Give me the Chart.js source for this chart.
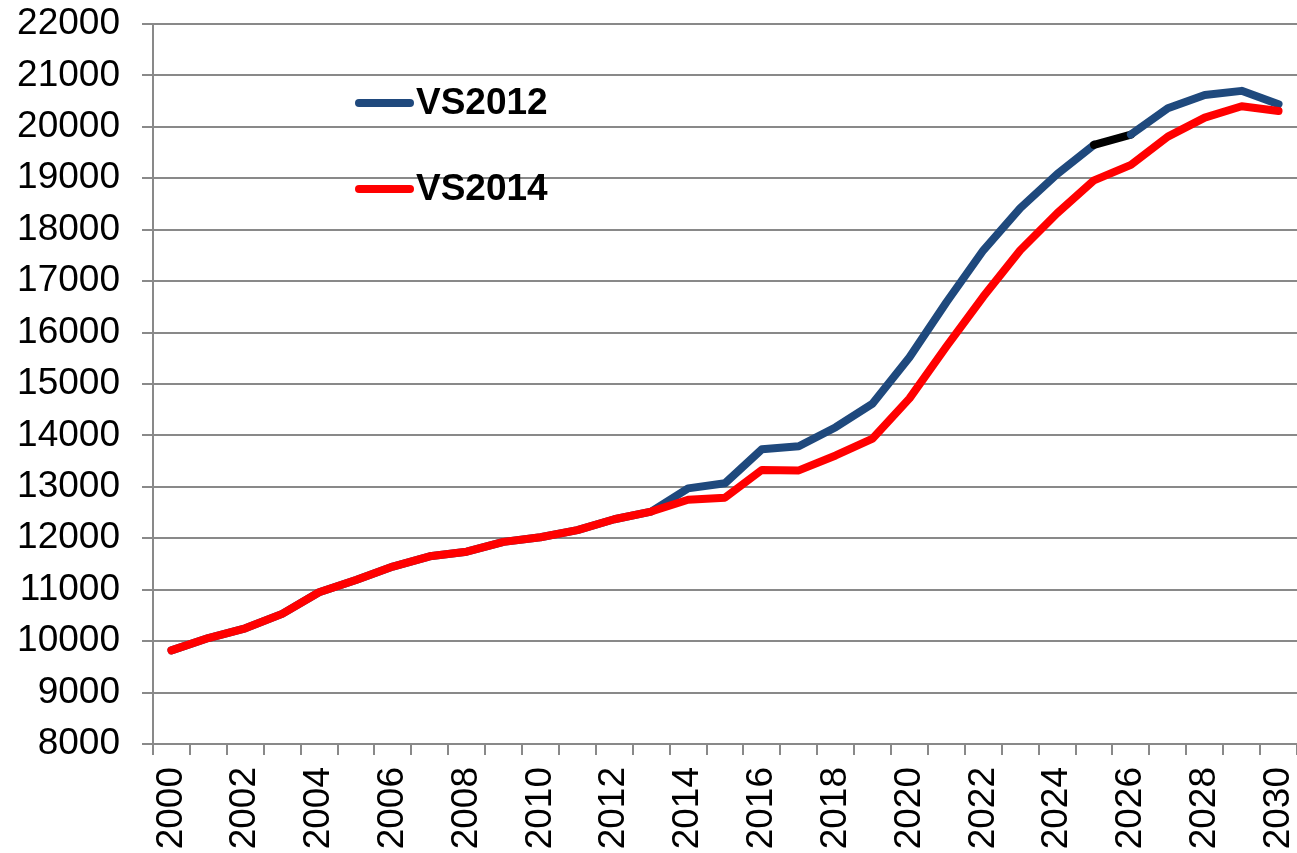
<!DOCTYPE html>
<html>
<head>
<meta charset="utf-8">
<script src="https://cdn.jsdelivr.net/npm/chart.js@4/dist/chart.umd.min.js"></script>
<style>
  html, body { margin: 0; padding: 0; background: #fff; }
  #wrap { width: 1297px; height: 853px; position: relative; }
</style>
</head>
<body>
<div id="wrap"><canvas id="chart"></canvas></div>
<script>
// Years on the x axis
const years = ['2000', '2001', '2002', '2003', '2004', '2005', '2006', '2007', '2008', '2009',
    '2010', '2011', '2012', '2013', '2014', '2015', '2016', '2017', '2018', '2019',
    '2020', '2021', '2022', '2023', '2024', '2025', '2026', '2027', '2028', '2029', '2030'];

// Series values
const vs2012 = [9820, 10060, 10250, 10530, 10950, 11190, 11450, 11650, 11740, 11930,
    12020, 12160, 12370, 12520, 12970, 13070, 13730, 13790, 14160, 14620,
    15520, 16590, 17600, 18420, 19080, 19650, 19850, 20360, 20620, 20700, 20440];
const vs2014 = [9820, 10060, 10250, 10530, 10950, 11190, 11450, 11650, 11740, 11930,
    12020, 12160, 12370, 12520, 12750, 12790, 13330, 13320, 13610, 13940,
    14720, 15730, 16700, 17600, 18320, 18960, 19260, 19810, 20180, 20400, 20310];

const seriesNames = ['VS2012', 'VS2014'];
const seriesColors = ['#1F497D', '#FF0000'];

const FONT = '"Liberation Sans", Arial, sans-serif';
const GRID = '#898989';

// Legend drawn inside the plot, like the original
const insideLegend = {
    id: 'insideLegend',
    afterDraw(chart) {
        const ctx = chart.ctx;
        const rows = [103, 189];
        ctx.save();
        seriesNames.forEach((name, i) => {
            const y = rows[i];
            ctx.strokeStyle = seriesColors[i];
            ctx.lineWidth = 8;
            ctx.lineCap = 'round';
            ctx.beginPath();
            ctx.moveTo(359, y);
            ctx.lineTo(410, y);
            ctx.stroke();
            ctx.fillStyle = '#000';
            ctx.font = 'bold 37px ' + FONT;
            ctx.textBaseline = 'middle';
            ctx.textAlign = 'left';
            ctx.fillText(name, 416, y + 1);
        });
        ctx.restore();
    }
};

const chart = new Chart(document.getElementById('chart'), {
    type: 'line',
    data: {
        labels: years,
        datasets: [{
            label: seriesNames[0],
            data: vs2012,
            borderColor: seriesColors[0],
            borderWidth: 8,
            pointRadius: 0,
            borderCapStyle: 'round',
            borderJoinStyle: 'round',
            order: 1,
            segment: {
                // the one dark segment between 2025 and 2026
                borderColor: c => c.p0DataIndex === 25 ? '#000000' : undefined
            }
        }, {
            label: seriesNames[1],
            data: vs2014,
            borderColor: seriesColors[1],
            borderWidth: 8,
            pointRadius: 0,
            borderCapStyle: 'round',
            borderJoinStyle: 'round',
            order: 0
        }]
    },
    options: {
        responsive: true,
        maintainAspectRatio: false,
        animation: false,
        layout: { padding: { top: 24, left: 17, right: 0, bottom: 0 } },
        plugins: {
            legend: { display: false },
            tooltip: { enabled: false }
        },
        scales: {
            x: {
                offset: true,
                afterFit: s => { s.paddingLeft = 0; s.paddingRight = 0; s.height = 109; },
                grid: {
                    offset: true,
                    drawOnChartArea: false,
                    drawTicks: true,
                    tickLength: 11,
                    color: GRID,
                    lineWidth: 2
                },
                border: { color: GRID, width: 2 },
                ticks: {
                    autoSkip: false,
                    maxRotation: 90,
                    minRotation: 90,
                    padding: 12,
                    color: '#000',
                    font: { family: FONT, size: 37 },
                    callback: (v, i) => i % 2 === 0 ? years[i] : ''
                }
            },
            y: {
                min: 8000,
                max: 22000,
                afterFit: s => { s.paddingTop = 0; s.paddingBottom = 0; s.width = 136; },
                grid: {
                    color: GRID,
                    lineWidth: 2,
                    tickLength: 11
                },
                border: { color: GRID, width: 2 },
                ticks: {
                    stepSize: 1000,
                    padding: 22,
                    color: '#000',
                    font: { family: FONT, size: 37 },
                    callback: v => String(v)
                }
            }
        }
    },
    plugins: [insideLegend]
});
</script>
</body>
</html>
